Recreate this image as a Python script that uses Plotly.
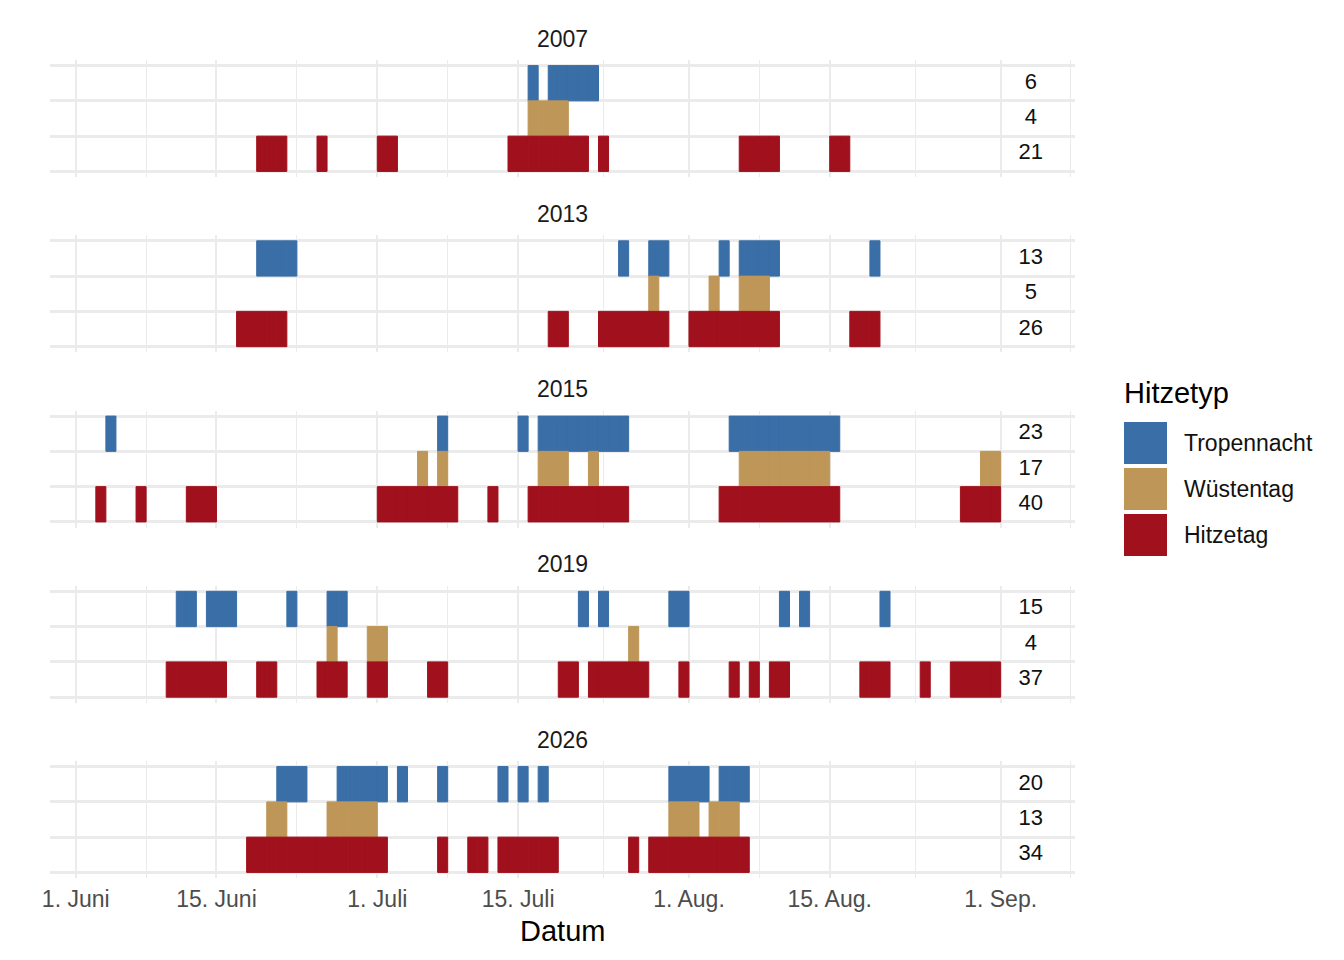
import pandas as pd
import plotly.graph_objects as go
from plotly.subplots import make_subplots

# Days per year and heat type (month-day)
TN_2007 = ["07-16", "07-18", "07-19", "07-20", "07-21", "07-22"]
WT_2007 = ["07-16", "07-17", "07-18", "07-19"]
HT_2007 = ["06-19", "06-20", "06-21", "06-25", "07-01", "07-02",
           "07-14", "07-15", "07-16", "07-17", "07-18", "07-19", "07-20", "07-21",
           "07-23", "08-06", "08-07", "08-08", "08-09", "08-15", "08-16"]

TN_2013 = ["06-19", "06-20", "06-21", "06-22", "07-25", "07-28", "07-29",
           "08-04", "08-06", "08-07", "08-08", "08-09", "08-19"]
WT_2013 = ["07-28", "08-03", "08-06", "08-07", "08-08"]
HT_2013 = ["06-17", "06-18", "06-19", "06-20", "06-21", "07-18", "07-19",
           "07-23", "07-24", "07-25", "07-26", "07-27", "07-28", "07-29",
           "08-01", "08-02", "08-03", "08-04", "08-05", "08-06", "08-07", "08-08", "08-09",
           "08-17", "08-18", "08-19"]

TN_2015 = ["06-04", "07-07", "07-15",
           "07-17", "07-18", "07-19", "07-20", "07-21", "07-22", "07-23", "07-24", "07-25",
           "08-05", "08-06", "08-07", "08-08", "08-09", "08-10", "08-11", "08-12", "08-13",
           "08-14", "08-15"]
WT_2015 = ["07-05", "07-07", "07-17", "07-18", "07-19", "07-22",
           "08-06", "08-07", "08-08", "08-09", "08-10", "08-11", "08-12", "08-13", "08-14",
           "08-30", "08-31"]
HT_2015 = ["06-03", "06-07", "06-12", "06-13", "06-14",
           "07-01", "07-02", "07-03", "07-04", "07-05", "07-06", "07-07", "07-08", "07-12",
           "07-16", "07-17", "07-18", "07-19", "07-20", "07-21", "07-22", "07-23", "07-24",
           "07-25",
           "08-04", "08-05", "08-06", "08-07", "08-08", "08-09", "08-10", "08-11", "08-12",
           "08-13", "08-14", "08-15",
           "08-28", "08-29", "08-30", "08-31"]

TN_2019 = ["06-11", "06-12", "06-14", "06-15", "06-16", "06-22", "06-26", "06-27",
           "07-21", "07-23", "07-30", "07-31", "08-10", "08-12", "08-20"]
WT_2019 = ["06-26", "06-30", "07-01", "07-26"]
HT_2019 = ["06-10", "06-11", "06-12", "06-13", "06-14", "06-15", "06-19", "06-20",
           "06-25", "06-26", "06-27", "06-30", "07-01", "07-06", "07-07", "07-19", "07-20",
           "07-22", "07-23", "07-24", "07-25", "07-26", "07-27", "07-31",
           "08-05", "08-07", "08-09", "08-10", "08-18", "08-19", "08-20", "08-24",
           "08-27", "08-28", "08-29", "08-30", "08-31"]

TN_2026 = ["06-21", "06-22", "06-23", "06-27", "06-28", "06-29", "06-30", "07-01",
           "07-03", "07-07", "07-13", "07-15", "07-17", "07-30", "07-31", "08-01", "08-02",
           "08-04", "08-05", "08-06"]
WT_2026 = ["06-20", "06-21", "06-26", "06-27", "06-28", "06-29", "06-30",
           "07-30", "07-31", "08-01", "08-03", "08-04", "08-05"]
HT_2026 = ["06-18", "06-19", "06-20", "06-21", "06-22", "06-23", "06-24", "06-25",
           "06-26", "06-27", "06-28", "06-29", "06-30", "07-01", "07-07", "07-10", "07-11",
           "07-13", "07-14", "07-15", "07-16", "07-17", "07-18", "07-26",
           "07-28", "07-29", "07-30", "07-31", "08-01", "08-02", "08-03", "08-04", "08-05",
           "08-06"]

YEARS = [2007, 2013, 2015, 2019, 2026]
TYPES = ["Tropennacht", "Wüstentag", "Hitzetag"]
SERIES = {
    2007: [TN_2007, WT_2007, HT_2007],
    2013: [TN_2013, WT_2013, HT_2013],
    2015: [TN_2015, WT_2015, HT_2015],
    2019: [TN_2019, WT_2019, HT_2019],
    2026: [TN_2026, WT_2026, HT_2026],
}

TICK_DATES = ["06-01", "06-15", "07-01", "07-15", "08-01", "08-15", "09-01", "09-15"]
TICK_LABELS = ["1. Juni", "15. Juni", "1. Juli", "15. Juli", "1. Aug.", "15. Aug.", "1. Sep.", "15. Sep."]
COUNT_LABEL_DATE = "09-04"

# Styling
COLORS = ["#3A6EA6", "#BE9658", "#A0111D"]
ROW_POS = [3, 2, 1]
GRID = "#EBEBEB"
FONT = "Liberation Sans, Arial, sans-serif"
REF_YEAR = 2001  # common year so all seasons share one axis
DAY_MS = 86400000

W, H = 1344, 960
M_L, M_R = 50, 269


def ts(md):
    return pd.Timestamp(f"{REF_YEAR}-{md}")


def px_x(px):
    return (px - M_L) / (W - M_L - M_R)


def px_y(px):
    return 1 - px / H


start = ts("06-01")
x_range = [start - pd.Timedelta(days=2.56), start + pd.Timedelta(days=99.4)]
tick_vals = [ts(d) for d in TICK_DATES]
minor_vals = [a + (b - a) / 2 for a, b in zip(tick_vals[:-1], tick_vals[1:])]

fig = make_subplots(rows=len(YEARS), cols=1, shared_xaxes=True)

for i, year in enumerate(YEARS):
    for typ, days, color, pos in zip(TYPES, SERIES[year], COLORS, ROW_POS):
        fig.add_trace(go.Bar(
            x=[ts(d) for d in days],
            y=[1] * len(days),
            base=[pos - 0.5] * len(days),
            width=DAY_MS,
            offset=0,
            # outline in the fill colour closes the hairline seams between days
            marker=dict(color=color, line=dict(color=color, width=1)),
            name=typ,
            showlegend=False,
            hoverinfo="x+name",
        ), row=i + 1, col=1)
    # day counts on the right
    fig.add_trace(go.Scatter(
        x=[ts(COUNT_LABEL_DATE)] * 3,
        y=ROW_POS,
        text=[str(len(d)) for d in SERIES[year]],
        mode="text",
        textposition="middle center",
        textfont=dict(size=22, color="#111111", family=FONT),
        showlegend=False,
        hoverinfo="skip",
    ), row=i + 1, col=1)

fig.update_layout(
    width=W, height=H,
    margin=dict(l=M_L, r=M_R, t=0, b=0),
    template="none",
    plot_bgcolor="white",
    paper_bgcolor="white",
    barmode="overlay",
    showlegend=False,
    font=dict(family=FONT, color="#1A1A1A"),
)

panel_top0, panel_step, panel_h = 60, 175.25, 117
for i, year in enumerate(YEARS):
    top = panel_top0 + i * panel_step
    bottom = top + panel_h
    n = "" if i == 0 else str(i + 1)
    fig.layout["yaxis" + n].update(
        domain=[px_y(bottom), px_y(top)],
        range=[0.342, 3.658],
        tickmode="array", tickvals=[0.5, 1.5, 2.5, 3.5],
        showticklabels=False, ticks="",
        showgrid=True, gridcolor=GRID, gridwidth=2.6,
        zeroline=False, showline=False, fixedrange=True, automargin=False,
    )
    fig.layout["xaxis" + n].update(
        type="date",
        range=x_range,
        tickmode="array", tickvals=tick_vals, ticktext=TICK_LABELS,
        showticklabels=(i == len(YEARS) - 1),
        ticks="outside", ticklen=0, tickcolor="rgba(0,0,0,0)",
        tickfont=dict(size=23, color="#4D4D4D", family=FONT),
        showgrid=True, gridcolor=GRID, gridwidth=2.4,
        minor=dict(tickmode="array", tickvals=minor_vals, showgrid=True,
                   gridcolor=GRID, gridwidth=1.3, ticks=""),
        zeroline=False, showline=False, fixedrange=True, automargin=False,
    )
    # facet strip title
    fig.add_annotation(
        text=str(year), xref="paper", yref="paper",
        x=0.5, y=px_y(top - 21.5), showarrow=False,
        xanchor="center", yanchor="middle",
        font=dict(size=23, color="#1A1A1A", family=FONT),
    )

# axis title
fig.add_annotation(
    text="Datum", xref="paper", yref="paper", x=0.5, y=px_y(931),
    showarrow=False, xanchor="center", yanchor="middle",
    font=dict(size=29, color="black", family=FONT),
)

# legend drawn by hand to get ggplot-sized keys
fig.add_annotation(
    text="Hitzetyp", xref="paper", yref="paper", x=px_x(1122), y=px_y(393),
    showarrow=False, xanchor="left", yanchor="middle",
    font=dict(size=29, color="black", family=FONT),
)
key_top, key_h, key_gap = 422, 42, 4
for k, (typ, color) in enumerate(zip(TYPES, COLORS)):
    y0 = key_top + k * (key_h + key_gap)
    fig.add_shape(
        type="rect", xref="paper", yref="paper",
        x0=px_x(1124), x1=px_x(1167), y0=px_y(y0 + key_h), y1=px_y(y0),
        fillcolor=color, line=dict(width=0),
    )
    fig.add_annotation(
        text=typ, xref="paper", yref="paper", x=px_x(1182), y=px_y(y0 + key_h / 2),
        showarrow=False, xanchor="left", yanchor="middle",
        font=dict(size=23, color="#111111", family=FONT),
    )

fig.write_html(
    "out.html",
    config={"displayModeBar": False},
    post_script="document.body.style.margin = '0px';",
)
